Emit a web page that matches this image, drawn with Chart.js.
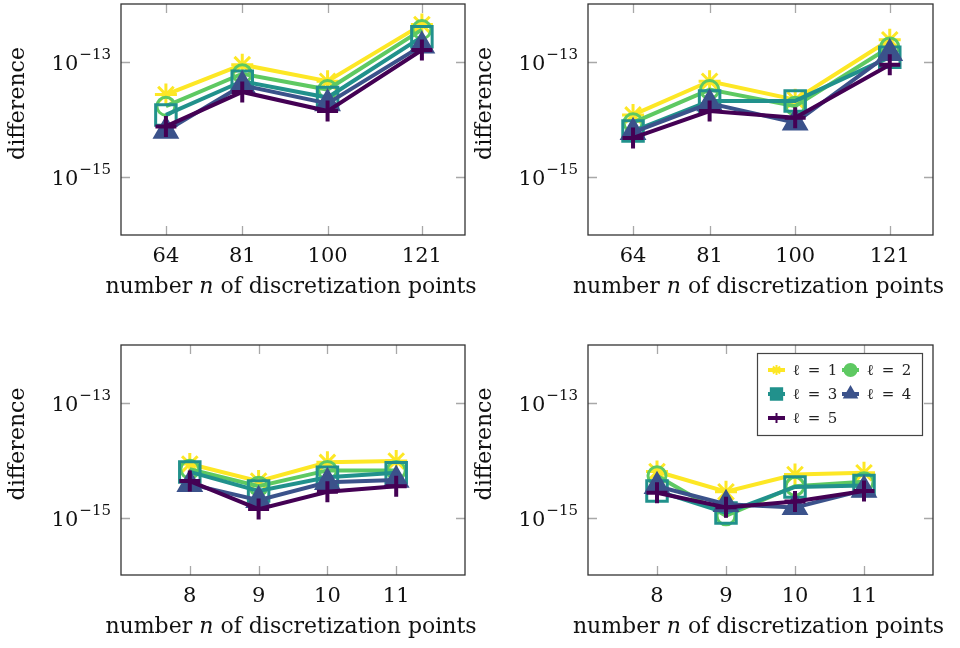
<!DOCTYPE html>
<html>
<head>
<meta charset="utf-8">
<script src="https://cdn.jsdelivr.net/npm/chart.js@4.4.0/dist/chart.umd.min.js"></script>
<style>
  body { margin: 0; background: #fff; }
  canvas { position: absolute; }
</style>
</head>
<body>
<canvas id="c1" width="480" height="324" style="left:0;top:0"></canvas>
<canvas id="c2" width="490" height="324" style="left:470px;top:0"></canvas>
<canvas id="c3" width="480" height="324" style="left:0;top:324px"></canvas>
<canvas id="c4" width="490" height="324" style="left:470px;top:324px"></canvas>
<script>
// discretization sizes
const nTop = [64, 81, 100, 121];
const nBottom = [8, 9, 10, 11];
const yTickVals = [1e-15, 1e-13];

const levels = ['ℓ = 1', 'ℓ = 2', 'ℓ = 3', 'ℓ = 4', 'ℓ = 5'];
const colors = ['#fde725', '#5ec962', '#21918c', '#3b528b', '#440154'];

// differences, one row per level
const diffTopLeft = [
  [2.7e-14, 8.9e-14, 4.6e-14, 4.4e-13],
  [1.7e-14, 6.2e-14, 3.3e-14, 3.6e-13],
  [1.2e-14, 4.6e-14, 2.4e-14, 2.7e-13],
  [6.3e-15, 3.9e-14, 1.9e-14, 1.9e-13],
  [7.6e-15, 3.0e-14, 1.4e-14, 1.6e-13]
];
const diffTopRight = [
  [1.2e-14, 4.6e-14, 2.2e-14, 2.4e-13],
  [8.8e-15, 3.3e-14, 1.7e-14, 1.8e-13],
  [6.3e-15, 2.1e-14, 2.1e-14, 1.2e-13],
  [6.0e-15, 1.9e-14, 8.8e-15, 1.4e-13],
  [4.8e-15, 1.4e-14, 1.07e-14, 8.9e-14]
];
const diffBottomLeft = [
  [8.5e-15, 4.3e-15, 9.1e-15, 9.6e-15],
  [6.9e-15, 3.5e-15, 6.6e-15, 6.6e-15],
  [6.2e-15, 2.9e-15, 5.0e-15, 6.0e-15],
  [3.8e-15, 2.0e-15, 4.1e-15, 4.5e-15],
  [4.3e-15, 1.4e-15, 2.8e-15, 3.5e-15]
];
const diffBottomRight = [
  [6.3e-15, 2.8e-15, 5.6e-15, 6.0e-15],
  [5.3e-15, 1.07e-15, 3.5e-15, 4.2e-15],
  [2.9e-15, 1.2e-15, 3.4e-15, 3.6e-15],
  [3.5e-15, 1.7e-15, 1.5e-15, 3.0e-15],
  [2.7e-15, 1.5e-15, 1.9e-15, 2.9e-15]
];

const FONT = "'DejaVu Serif', serif";
const markers = [
  { style: 'star', r: 11, w: 3, fill: false },
  { style: 'circle', r: 9, w: 3, fill: false },
  { style: 'rect', r: 14.5, w: 3, fill: false },
  { style: 'triangle', r: 12.5, w: 3, fill: true },
  { style: 'cross', r: 10.5, w: 4, fill: false }
];

function expText(v) {
  return '\u2212' + String(-Math.round(Math.log10(v)));
}

// frame, inner ticks, power-of-ten labels and axis titles
const framePlugin = {
  id: 'frame',
  beforeDatasetsDraw(chart) {
    const { ctx, chartArea: a, scales: { x, y } } = chart;
    ctx.save();
    ctx.strokeStyle = '#a8a8a8';
    ctx.lineWidth = 1.3;
    ctx.beginPath();
    x.ticks.forEach(t => {
      const px = Math.round(x.getPixelForValue(t.value)) + 0.5;
      ctx.moveTo(px, a.bottom); ctx.lineTo(px, a.bottom - 9);
      ctx.moveTo(px, a.top); ctx.lineTo(px, a.top + 9);
    });
    y.ticks.forEach(t => {
      const py = Math.round(y.getPixelForValue(t.value)) + 0.5;
      ctx.moveTo(a.left, py); ctx.lineTo(a.left + 9, py);
      ctx.moveTo(a.right, py); ctx.lineTo(a.right - 9, py);
    });
    ctx.stroke();
    ctx.strokeStyle = '#333';
    ctx.lineWidth = 1.3;
    ctx.strokeRect(a.left, a.top, a.right - a.left, a.bottom - a.top);
    ctx.restore();
  },
  afterDraw(chart) {
    const { ctx, chartArea: a, scales: { y } } = chart;
    ctx.save();
    ctx.fillStyle = '#111';

    // y tick labels: 10 with a raised exponent
    ctx.textBaseline = 'alphabetic';
    y.ticks.forEach(t => {
      const py = y.getPixelForValue(t.value);
      ctx.font = '15px ' + FONT;
      const ew = ctx.measureText(expText(t.value)).width;
      const xr = a.left - 10;
      ctx.fillText(expText(t.value), xr - ew, py - 3);
      ctx.font = '21px ' + FONT;
      const bw = ctx.measureText('10').width;
      ctx.fillText('10', xr - ew - bw - 1, py + 8);
    });

    const parts = [['number ', 'normal'], ['n', 'italic'], [' of discretization points', 'normal']];
    const size = 22;
    let total = 0;
    parts.forEach(p => { ctx.font = p[1] + ' ' + size + 'px ' + FONT; total += ctx.measureText(p[0]).width; });
    let cx = (a.left + a.right) / 2 - 2 - total / 2;
    parts.forEach(p => {
      ctx.font = p[1] + ' ' + size + 'px ' + FONT;
      ctx.fillText(p[0], cx, a.bottom + 58);
      cx += ctx.measureText(p[0]).width;
    });

    ctx.translate(a.left - 103, (a.top + a.bottom) / 2 - 16);
    ctx.rotate(-Math.PI / 2);
    ctx.font = 'normal 22px ' + FONT;
    ctx.textAlign = 'center';
    ctx.textBaseline = 'middle';
    ctx.fillText('difference', 0, 0);
    ctx.restore();
  }
};

// boxed legend in the upper right corner of the plot
const boxLegend = {
  id: 'boxLegend',
  afterDraw(chart, args, opts) {
    if (!opts.show) return;
    const { ctx, chartArea: a } = chart;
    const bw = 165, bh = 82;
    const bx = a.right - 11 - bw, by = a.top + 8;
    ctx.save();
    ctx.fillStyle = '#fff';
    ctx.fillRect(bx, by, bw, bh);
    ctx.strokeStyle = '#444';
    ctx.lineWidth = 1.2;
    ctx.strokeRect(bx + 0.5, by + 0.5, bw, bh);
    chart.data.datasets.forEach((ds, i) => {
      const col = i % 2, row = Math.floor(i / 2);
      const sx = bx + 11 + col * 74, sy = by + 17 + row * 24;
      ctx.strokeStyle = ds.borderColor;
      ctx.lineWidth = 4;
      ctx.beginPath();
      ctx.moveTo(sx, sy); ctx.lineTo(sx + 17, sy);
      ctx.stroke();
      ctx.fillStyle = ds.borderColor;
      ctx.lineWidth = 2;
      const r = { star: 5, circle: 6, rect: 8, triangle: 7, cross: 5 }[ds.pointStyle];
      Chart.helpers.drawPoint(ctx, { pointStyle: ds.pointStyle, radius: r, borderWidth: 3, rotation: 0 }, sx + 8.5, sy);
      ctx.fill();
      ctx.fillStyle = '#222';
      ctx.font = '15px ' + FONT;
      ctx.textBaseline = 'middle';
      ctx.fillText(levels[i].replace(/ /g, '\u2002'), sx + 25, sy + 1);
    });
    ctx.restore();
  }
};

function makeChart(id, n, xmin, xmax, rows, padTop, padRight, yWidth, xHeight, showLegend) {
  const datasets = rows.map((vals, i) => ({
    label: levels[i],
    data: n.map((v, j) => ({ x: v, y: vals[j] })),
    borderColor: colors[i],
    borderWidth: 4,
    pointStyle: markers[i].style,
    pointRadius: markers[i].r,
    pointHoverRadius: markers[i].r,
    pointBorderWidth: markers[i].w,
    pointBorderColor: colors[i],
    pointBackgroundColor: markers[i].fill ? colors[i] : 'rgba(0,0,0,0)',
    order: 4 - i,
    clip: false
  }));
  const noPad = s => { s.paddingTop = 0; s.paddingBottom = 0; s.paddingLeft = 0; s.paddingRight = 0; };
  return new Chart(document.getElementById(id), {
    type: 'line',
    data: { datasets },
    options: {
      responsive: false,
      animation: false,
      layout: { autoPadding: false, padding: { top: padTop, right: padRight, left: 0, bottom: 0 } },
      plugins: {
        legend: { display: false },
        tooltip: { enabled: false },
        boxLegend: { show: showLegend }
      },
      scales: {
        x: {
          type: 'linear',
          min: xmin,
          max: xmax,
          grid: { display: false, drawTicks: false },
          border: { display: false },
          afterBuildTicks: s => { s.ticks = n.map(v => ({ value: v })); },
          afterFit: s => { s.height = xHeight; noPad(s); },
          ticks: { color: '#111', padding: 9, font: { family: FONT, size: 21 }, maxRotation: 0 }
        },
        y: {
          type: 'logarithmic',
          min: 1e-16,
          max: 1e-12,
          grid: { display: false, drawTicks: false },
          border: { display: false },
          afterBuildTicks: s => { s.ticks = yTickVals.map(v => ({ value: v })); },
          afterFit: s => { s.width = yWidth; noPad(s); },
          ticks: { display: false }
        }
      }
    },
    plugins: [framePlugin, boxLegend]
  });
}

makeChart('c1', nTop, 54, 130.6, diffTopLeft, 4, 15, 121, 89, false);
makeChart('c2', nTop, 54, 130.6, diffTopRight, 4, 27, 118, 89, false);
makeChart('c3', nBottom, 7, 12, diffBottomLeft, 21, 15, 121, 73, false);
makeChart('c4', nBottom, 7, 12, diffBottomRight, 21, 27, 118, 73, true);
</script>
</body>
</html>
